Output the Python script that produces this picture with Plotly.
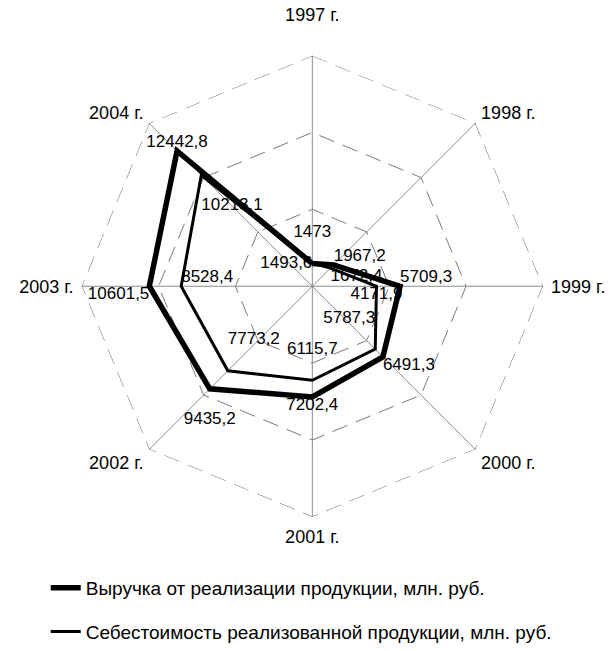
import plotly.graph_objects as go

years = ["1997 г.", "1998 г.", "1999 г.", "2000 г.", "2001 г.", "2002 г.", "2003 г.", "2004 г."]
year_ticks = ["1997 г.<br> ", "1998 г.", "1999 г.", "2000 г.<br> ", "2001 г.", "2002 г.<br> ", "2003 г.", "2004 г."]
revenue = [1473, 1967.2, 5709.3, 6491.3, 7202.4, 9435.2, 10601.5, 12442.8]
cost = [1493.6, 1672.4, 4171.9, 5787.3, 6115.7, 7773.2, 8528.4, 10213.1]
revenue_labels = ["1473<br> ", "1967,2", "5709,3", "6491,3", "7202,4", "<br>9435,2", "10601,5", "12442,8"]
cost_labels = ["1493,6", "1672,4", "4171,9", "5787,3<br> ", "6115,7<br> ", "7773,2<br> ", "8528,4", "<br>10213,1"]
revenue_pos = ["top center", "top right", "top right", "bottom right", "bottom center",
               "bottom center", "bottom left", "top center"]
cost_pos = ["middle left", "bottom right", "bottom center", "top left", "top center",
            "top right", "top right", "bottom right"]
name_rev = "Выручка от реализации продукции, млн. руб."
name_cost = "Себестоимость реализованной продукции, млн. руб."
axis_max = 15000
grid_step = 5000

FONT = "Liberation Sans, Arial, sans-serif"


def closed(a):
    return list(a) + [a[0]]


fig = go.Figure()
# outer dashed ring of the radial grid (at the axis maximum)
fig.add_trace(go.Scatterpolar(
    r=[axis_max] * (len(years) + 1), theta=closed(years), mode="lines",
    line=dict(color="#5e5e5e", width=1, dash="16px,9px"),
    showlegend=False, hoverinfo="skip", cliponaxis=False,
))
fig.add_trace(go.Scatterpolar(
    r=closed(revenue), theta=closed(years), mode="lines+text",
    text=revenue_labels + [""], textposition=closed(revenue_pos),
    textfont=dict(family=FONT, size=17, color="black"),
    line=dict(color="black", width=5.5), name=name_rev,
    legendgroup="a", cliponaxis=False,
))
fig.add_trace(go.Scatterpolar(
    r=closed(cost), theta=closed(years), mode="lines+text",
    text=cost_labels + [""], textposition=closed(cost_pos),
    textfont=dict(family=FONT, size=17, color="black"),
    line=dict(color="black", width=3), name=name_cost,
    legendgroup="b", cliponaxis=False,
))

fig.update_layout(
    width=610, height=651,
    margin=dict(l=0, r=0, t=0, b=0),
    paper_bgcolor="white", plot_bgcolor="white",
    font=dict(family=FONT, size=17, color="black"),
    polar=dict(
        domain=dict(x=[0.1333, 0.8907], y=[0.2048, 0.9144]),
        bgcolor="white",
        gridshape="linear",
        angularaxis=dict(
            rotation=90, direction="clockwise", categoryorder="array", categoryarray=years,
            tickmode="array", tickvals=years, ticktext=year_ticks,
            showline=False, gridcolor="#8c8c8c", gridwidth=1,
            tickfont=dict(family=FONT, size=18, color="black"),
            ticks="outside", ticklen=4, tickcolor="rgba(0,0,0,0)",
        ),
        radialaxis=dict(
            range=[0, axis_max], tickvals=[grid_step, 2 * grid_step], showticklabels=False,
            ticks="", showline=False, gridcolor="#7a7a7a", gridwidth=1,
            griddash="16px,9px", angle=90,
        ),
    ),
    showlegend=True,
    legend=dict(
        x=0.075, y=0.125, xanchor="left", yanchor="top",
        font=dict(family=FONT, size=19, color="black"),
        traceorder="grouped", tracegroupgap=16, bgcolor="rgba(0,0,0,0)",
    ),
)

fig.write_html("out.html", config={"displayModeBar": False},
               post_script="document.body.style.margin='0';")
